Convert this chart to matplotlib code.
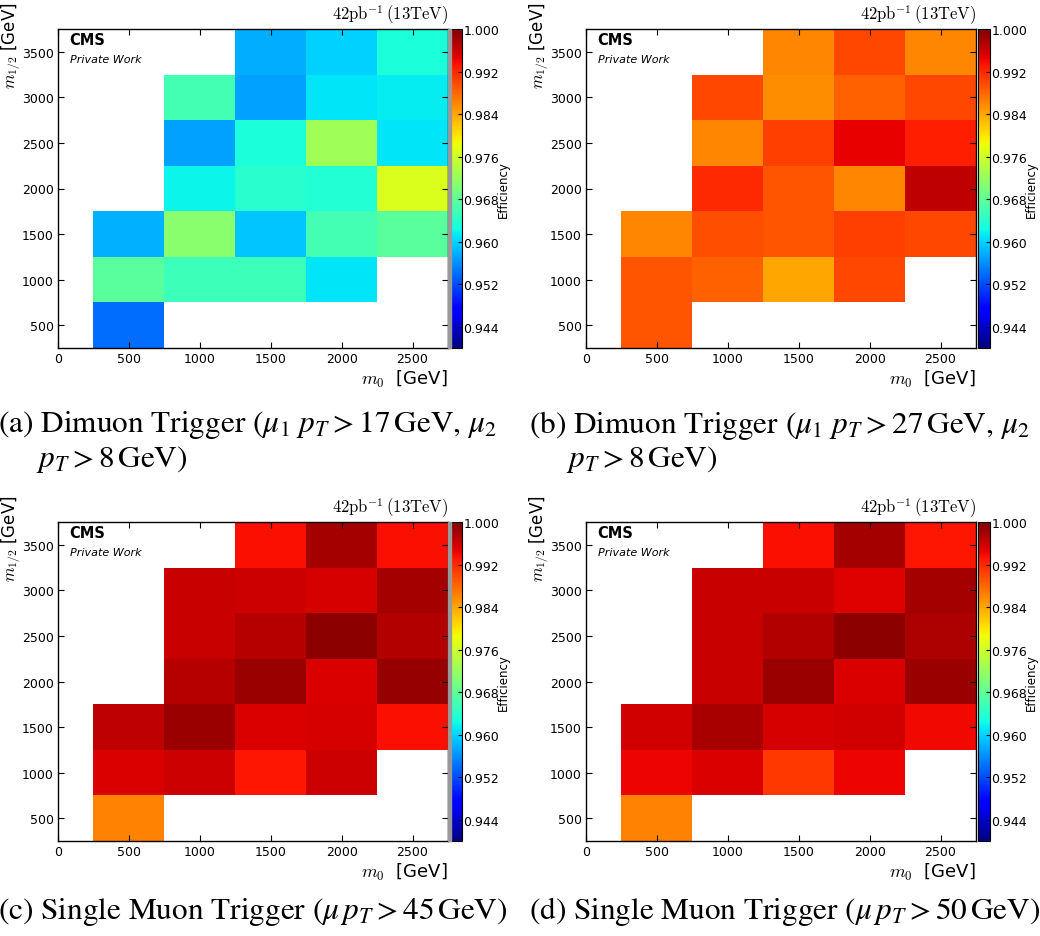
import numpy as np
import matplotlib
matplotlib.use("Agg")
import matplotlib.pyplot as plt
from matplotlib.patches import Rectangle

# ---- data ----
m0_centers = [500, 1000, 1500, 2000, 2500]
m12_centers = [500, 1000, 1500, 2000, 2500, 3000, 3500]
N = None
# rows: m_1/2 = 500 ... 3500 ; columns: m_0 = 500 ... 2500
eff_a = [
    [0.9540, N, N, N, N],
    [0.9675, 0.9655, 0.9655, 0.9610, N],
    [0.9580, 0.9710, 0.9590, 0.9660, 0.9675],
    [N, 0.9620, 0.9640, 0.9635, 0.9770],
    [N, 0.9570, 0.9630, 0.9727, 0.9610],
    [N, 0.9660, 0.9570, 0.9610, 0.9615],
    [N, N, 0.9577, 0.9598, 0.9630],
]
eff_b = [
    [0.9890, N, N, N, N],
    [0.9890, 0.9885, 0.9840, 0.9900, N],
    [0.9860, 0.9895, 0.9890, 0.9905, 0.9900],
    [N, 0.9920, 0.9890, 0.9860, 0.9966],
    [N, 0.9860, 0.9905, 0.9945, 0.9925],
    [N, 0.9900, 0.9855, 0.9885, 0.9900],
    [N, N, 0.9860, 0.9900, 0.9860],
]
eff_c = [
    [0.9863, N, N, N, N],
    [0.9952, 0.9960, 0.9932, 0.9960, N],
    [0.9965, 0.9984, 0.9952, 0.9955, 0.9935],
    [N, 0.9970, 0.9984, 0.9952, 0.9988],
    [N, 0.9962, 0.9970, 0.9991, 0.9973],
    [N, 0.9962, 0.9960, 0.9955, 0.9980],
    [N, N, 0.9935, 0.9980, 0.9935],
]
eff_d = [
    [0.9863, N, N, N, N],
    [0.9943, 0.9952, 0.9910, 0.9943, N],
    [0.9957, 0.9978, 0.9955, 0.9957, 0.9940],
    [N, 0.9962, 0.9984, 0.9952, 0.9984],
    [N, 0.9962, 0.9973, 0.9991, 0.9975],
    [N, 0.9962, 0.9962, 0.9950, 0.9980],
    [N, N, 0.9935, 0.9980, 0.9930],
]
cbar_ticks = [0.944, 0.952, 0.960, 0.968, 0.976, 0.984, 0.992, 1.000]
captions = [
    (r"(a) Dimuon Trigger ($\mu_1\ p_T > 17\,$GeV, $\mu_2$", r"$p_T > 8\,$GeV)"),
    (r"(b) Dimuon Trigger ($\mu_1\ p_T > 27\,$GeV, $\mu_2$", r"$p_T > 8\,$GeV)"),
    (r"(c) Single Muon Trigger ($\mu\, p_T > 45\,$GeV)", None),
    (r"(d) Single Muon Trigger ($\mu\, p_T > 50\,$GeV)", None),
]

W, H = 1040, 937
fig = plt.figure(figsize=(W / 100, H / 100), dpi=100)

def fx(px):
    return px / W

def fy(py):
    return 1 - py / H

panels = [
    (eff_a, 58, 448, 30, 349, True),
    (eff_b, 586, 976, 30, 349, False),
    (eff_c, 58, 448, 523, 842, True),
    (eff_d, 586, 976, 523, 842, False),
]

xc = np.array(m0_centers, float)
yc = np.array(m12_centers, float)
xe = np.concatenate([xc - 250, [xc[-1] + 250]])
ye = np.concatenate([yc - 250, [yc[-1] + 250]])

for (vals, l, r, t, b, gray) in panels:
    ax = fig.add_axes([fx(l), fy(b), fx(r) - fx(l), fy(t) - fy(b)])
    Z = np.array([[np.nan if v is None else v for v in row] for row in vals], float)
    Z = np.ma.masked_invalid(Z)
    mesh = ax.pcolormesh(xe, ye, Z, cmap="jet", vmin=0.94, vmax=1.0)
    ax.set_xlim(0, 2750)
    ax.set_ylim(250, 3750)
    ax.set_xticks([0, 500, 1000, 1500, 2000, 2500])
    ax.set_yticks([500, 1000, 1500, 2000, 2500, 3000, 3500])
    ax.tick_params(direction="in", top=True, right=True, labelsize=9,
                   length=4, width=0.8, pad=3)
    for s in ax.spines.values():
        s.set_linewidth(1.0)
    ax.set_xlabel(r"$m_0$  [GeV]", fontsize=13, loc="right", labelpad=2,
                  math_fontfamily="cm")
    ax.set_ylabel(r"$m_{1/2}$ [GeV]", fontsize=12, math_fontfamily="cm")
    ax.yaxis.set_label_coords(-35 / (r - l), 1 - 16 / (b - t))
    ax.text(0.03, 0.966, "CMS", transform=ax.transAxes, fontsize=10.5,
            fontweight="bold", va="center", ha="left")
    ax.text(0.03, 0.906, "Private Work", transform=ax.transAxes, fontsize=8,
            style="italic", va="center", ha="left")
    ax.text(1.0, 1.008, r"$42\mathrm{pb}^{-1}\,(13\mathrm{TeV})$",
            transform=ax.transAxes, fontsize=12, ha="right", va="bottom",
            math_fontfamily="cm")
    cax = fig.add_axes([fx(r + 2), fy(b), fx(12), fy(t) - fy(b)])
    cb = fig.colorbar(mesh, cax=cax, ticks=cbar_ticks)
    cb.ax.set_yticklabels(["%.3f" % v for v in cbar_ticks])
    cb.ax.tick_params(labelsize=9, direction="in", length=3, pad=1)
    cb.set_label("Efficiency", fontsize=8.5, labelpad=-2)
    if gray:
        fig.patches.append(Rectangle((fx(r), fy(b)), fx(3), fy(t) - fy(b),
                                     transform=fig.transFigure,
                                     color="#999999", zorder=5))

cap_kw = dict(fontsize=22.5, family="STIXGeneral", math_fontfamily="stix",
              va="center", ha="left")
fig.text(fx(-2), fy(425), captions[0][0], **cap_kw)
fig.text(fx(36), fy(460), captions[0][1], **cap_kw)
fig.text(fx(529), fy(425), captions[1][0], **cap_kw)
fig.text(fx(566), fy(460), captions[1][1], **cap_kw)
fig.text(fx(-2), fy(912), captions[2][0], **cap_kw)
fig.text(fx(529), fy(912), captions[3][0], **cap_kw)

fig.savefig("out.png", dpi=100)
